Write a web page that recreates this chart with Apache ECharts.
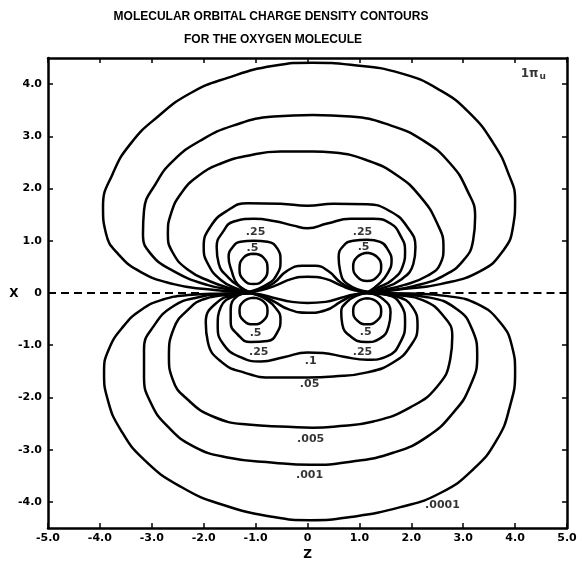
<!DOCTYPE html>
<html><head><meta charset="utf-8">
<script src="https://cdn.jsdelivr.net/npm/echarts/dist/echarts.min.js"></script>
<style>html,body{margin:0;padding:0;background:#fff}#c{width:582px;height:566px}</style>
</head><body><div id="c"></div>
<script>
// ---- tick values ----
const zTickValues = [-5,-4,-3,-2,-1,0,1,2,3,4,5];
const xTickValues = [-4,-3,-2,-1,0,1,2,3,4];

// ---- contour traces [z, x] ----
const level0001Upper = [[-1.13,0.02],[-1.4,0.03],[-1.92,0.07],[-2.58,0.17],[-3.21,0.40],[-3.65,0.75],[-3.88,1.13],[-3.94,1.65],[-3.75,2.29],[-3.40,2.87],[-2.88,3.38],[-2.25,3.83],[-1.54,4.12],[-0.65,4.35],[0.1,4.41],[0.83,4.37],[1.79,4.21],[2.56,3.88],[3.13,3.44],[3.58,2.87],[3.87,2.29],[4.0,1.77],[3.96,1.27],[3.77,0.81],[3.33,0.42],[2.56,0.17],[1.79,0.07],[1.4,0.03],[1.17,0.02]];
const level0001Lower = [[-1.13,0],[-1.6,-0.01],[-2.3,-0.04],[-2.8,-0.13],[-3.2,-0.32],[-3.54,-0.63],[-3.83,-1.08],[-3.92,-1.52],[-3.85,-2.04],[-3.60,-2.62],[-3.15,-3.19],[-2.44,-3.71],[-1.62,-4.06],[-0.65,-4.29],[0.05,-4.35],[0.83,-4.29],[1.79,-4.10],[2.56,-3.83],[3.19,-3.38],[3.65,-2.81],[3.90,-2.17],[4.0,-1.52],[3.94,-1.02],[3.71,-0.56],[3.27,-0.21],[2.7,-0.06],[2.0,-0.01],[1.17,0]];
const level001Upper = [[-1.13,0.02],[-1.42,0.06],[-1.92,0.15],[-2.58,0.42],[-3.02,0.75],[-3.17,1.13],[-3.15,1.58],[-2.92,2.10],[-2.58,2.54],[-2.06,2.92],[-1.42,3.21],[-0.65,3.38],[0.1,3.41],[0.83,3.38],[1.6,3.21],[2.23,2.92],[2.75,2.48],[3.08,1.96],[3.23,1.46],[3.19,1.0],[3.0,0.62],[2.62,0.33],[2.04,0.13],[1.54,0.05],[1.17,0.02]];
const level001Lower = [[-1.13,0],[-1.6,-0.02],[-2.1,-0.08],[-2.58,-0.25],[-2.96,-0.63],[-3.15,-1.08],[-3.15,-1.6],[-3.02,-2.1],[-2.69,-2.56],[-2.19,-2.94],[-1.54,-3.15],[-0.65,-3.25],[0.05,-3.29],[0.83,-3.23],[1.65,-3.06],[2.31,-2.75],[2.81,-2.29],[3.13,-1.79],[3.27,-1.21],[3.17,-0.69],[2.88,-0.31],[2.31,-0.08],[1.65,-0.02],[1.17,0]];
const level005Upper = [[-1.13,0.02],[-1.48,0.09],[-1.87,0.22],[-2.31,0.45],[-2.6,0.78],[-2.69,1.13],[-2.63,1.52],[-2.44,1.9],[-2.12,2.23],[-1.67,2.48],[-1.15,2.63],[-0.52,2.71],[0.1,2.71],[0.5,2.69],[1.15,2.54],[1.73,2.25],[2.17,1.85],[2.5,1.33],[2.62,0.88],[2.56,0.56],[2.31,0.33],[1.85,0.15],[1.46,0.06],[1.17,0.02]];
const level005Lower = [[-1.13,0],[-1.67,-0.05],[-2.0,-0.12],[-2.25,-0.27],[-2.58,-0.69],[-2.67,-1.21],[-2.6,-1.65],[-2.31,-2.04],[-1.81,-2.37],[-1.15,-2.52],[-0.38,-2.56],[0.1,-2.58],[0.5,-2.56],[1.27,-2.46],[1.98,-2.19],[2.5,-1.79],[2.75,-1.27],[2.79,-0.83],[2.62,-0.44],[2.23,-0.14],[1.73,-0.04],[1.17,0]];
const level05Upper = [[-1.13,0.02],[-1.35,0.08],[-1.67,0.25],[-1.92,0.56],[-2.0,0.88],[-1.87,1.27],[-1.54,1.58],[-1.15,1.72],[-0.52,1.71],[0,1.67],[0.5,1.71],[1.15,1.70],[1.6,1.56],[1.92,1.27],[2.08,0.88],[2.04,0.56],[1.79,0.25],[1.4,0.08],[1.17,0.02],[0.9,0.05],[0.65,0.14],[0.35,0.27],[0,0.31],[-0.3,0.27],[-0.62,0.14],[-0.9,0.05],[-1.13,0.02]];
const level05Lower = [[-1.13,0],[-1.35,-0.03],[-1.73,-0.17],[-1.96,-0.56],[-1.92,-0.94],[-1.67,-1.31],[-1.23,-1.52],[-0.65,-1.62],[0,-1.62],[0.5,-1.6],[1.15,-1.52],[1.65,-1.33],[1.98,-1.02],[2.12,-0.63],[2.02,-0.27],[1.73,-0.07],[1.4,-0.02],[1.17,0],[0.9,-0.03],[0.65,-0.09],[0.35,-0.17],[0,-0.19],[-0.3,-0.17],[-0.62,-0.1],[-0.9,-0.03],[-1.13,0]];
const level1Upper = [[-1.13,0.02],[-1.29,0.11],[-1.52,0.29],[-1.71,0.56],[-1.75,0.88],[-1.63,1.17],[-1.42,1.37],[-1.04,1.42],[-0.65,1.38],[-0.27,1.29],[0,1.24],[0.38,1.33],[0.83,1.42],[1.27,1.42],[1.6,1.33],[1.79,1.1],[1.88,0.81],[1.83,0.5],[1.63,0.25],[1.35,0.1],[1.17,0.02],[0.9,0.07],[0.65,0.19],[0.4,0.42],[0.15,0.52],[-0.1,0.52],[-0.4,0.42],[-0.65,0.19],[-0.9,0.07],[-1.13,0.02]];
const level1Lower = [[-1.13,0],[-1.35,-0.04],[-1.67,-0.27],[-1.73,-0.63],[-1.62,-0.98],[-1.29,-1.23],[-0.9,-1.31],[-0.46,-1.23],[0,-1.14],[0.3,-1.15],[0.7,-1.22],[1.15,-1.28],[1.54,-1.21],[1.79,-0.94],[1.88,-0.56],[1.79,-0.21],[1.54,-0.04],[1.17,0],[0.9,-0.04],[0.65,-0.16],[0.35,-0.33],[0,-0.38],[-0.37,-0.31],[-0.65,-0.16],[-0.9,-0.05],[-1.13,0]];
const level25UpperLeft = [[-1.13,0.02],[-1.35,0.17],[-1.46,0.42],[-1.52,0.69],[-1.44,0.88],[-1.29,0.98],[-1.04,1.0],[-0.77,0.98],[-0.58,0.85],[-0.52,0.62],[-0.58,0.37],[-0.77,0.17],[-1.13,0.02]];
const level25UpperRight = [[1.17,0.02],[1.37,0.17],[1.54,0.37],[1.62,0.62],[1.56,0.81],[1.4,0.98],[1.15,1.02],[0.88,1.0],[0.69,0.9],[0.6,0.69],[0.63,0.42],[0.77,0.17],[1.17,0.02]];
const level25LowerLeft = [[-1.13,0],[-1.35,-0.06],[-1.48,-0.31],[-1.48,-0.56],[-1.35,-0.79],[-1.1,-0.94],[-0.77,-0.92],[-0.58,-0.75],[-0.52,-0.5],[-0.62,-0.28],[-0.8,-0.12],[-1.0,-0.03],[-1.13,0]];
const level25LowerRight = [[1.17,0],[1.46,-0.12],[1.6,-0.37],[1.56,-0.65],[1.4,-0.87],[1.12,-0.94],[0.83,-0.83],[0.67,-0.6],[0.65,-0.36],[0.75,-0.18],[0.95,-0.05],[1.17,0]];
const level5UpperLeft = [[-1.04,0.75],[-0.85,0.68],[-0.77,0.46],[-0.85,0.25],[-1.04,0.17],[-1.23,0.25],[-1.31,0.46],[-1.23,0.68],[-1.04,0.75]];
const level5UpperRight = [[1.15,0.77],[1.34,0.69],[1.42,0.5],[1.34,0.31],[1.15,0.23],[0.96,0.31],[0.88,0.5],[0.96,0.69],[1.15,0.77]];
const level5LowerLeft = [[-1.04,-0.09],[-0.85,-0.16],[-0.77,-0.34],[-0.85,-0.53],[-1.04,-0.6],[-1.23,-0.53],[-1.31,-0.34],[-1.23,-0.16],[-1.04,-0.09]];
const level5LowerRight = [[1.15,-0.1],[1.34,-0.17],[1.42,-0.35],[1.34,-0.53],[1.15,-0.6],[0.96,-0.53],[0.88,-0.35],[0.96,-0.17],[1.15,-0.1]];
const axisDashLeft = [[-5,0],[-2.0,0]];
const axisDashRight = [[2.1,0],[5,0]];

// ---- contour labels ----
const contourLabels = ['.25','.5','.25','.5','.5','.25','.5','.25','.1','.05','.005','.001','.0001'];
const contourLabelPos = [[-1.0,1.17],[-1.06,0.86],[1.06,1.17],[1.08,0.87],[-1.0,-0.76],[-0.94,-1.13],[1.12,-0.74],[1.06,-1.13],[0.06,-1.31],[0.04,-1.75],[0.06,-2.79],[0.04,-3.48],[2.6,-4.07]];
const stateLabelPos = [4.35,4.2];

const contourTraces = [level0001Upper,level0001Lower,level001Upper,level001Lower,level005Upper,level005Lower,
  level05Upper,level05Lower,level1Upper,level1Lower,level25UpperLeft,level25UpperRight,level25LowerLeft,level25LowerRight,
  level5UpperLeft,level5UpperRight,level5LowerLeft,level5LowerRight];

const chart = echarts.init(document.getElementById('c'), null, {renderer:'canvas'});
const tickFont = {fontFamily:'DejaVu Sans', fontWeight:'bold', fontSize:11, color:'#000'};
const fmt = v => (Math.abs(v - Math.round(v)) > 1e-6) ? '' : (Math.round(v) === 0 ? '0' : v.toFixed(1));

const series = contourTraces.map(d => ({
  type:'line', data:d, smooth:0.5, symbol:'none', showSymbol:false, silent:true,
  lineStyle:{color:'#000', width:2.5}, z:2
}));
[axisDashLeft, axisDashRight].forEach(d => series.push({
  type:'line', data:d, symbol:'none', silent:true, lineStyle:{color:'#000', width:1.8, type:[8,5]}, z:1
}));
series.push({
  type:'scatter', symbolSize:0, silent:true, z:5,
  data: contourLabels.map((t,i)=>({name:t, value:contourLabelPos[i]})),
  label:{show:true, position:'inside', formatter:p=>p.name, fontFamily:'DejaVu Sans', fontWeight:'bold', fontSize:11, color:'#000'}
});
series.push({
  type:'scatter', symbolSize:0, silent:true, z:5,
  data:[{name:'1πu', value:stateLabelPos}],
  label:{show:true, position:'inside', formatter:'{a|1π}{b|u}',
    rich:{a:{fontFamily:'DejaVu Sans', fontWeight:'bold', fontSize:12, color:'#000'},
          b:{fontFamily:'DejaVu Sans', fontWeight:'bold', fontSize:9, color:'#000', padding:[6,0,0,1]}}}
});

chart.setOption({
  animation:false,
  backgroundColor:'#fff',
  graphic:[
    {type:'text', x:271, y:17, style:{text:'MOLECULAR ORBITAL CHARGE DENSITY CONTOURS', textAlign:'center', textVerticalAlign:'middle', fill:'#000', font:'bold 12px "Liberation Sans"'}},
    {type:'text', x:273, y:40, style:{text:'FOR THE OXYGEN MOLECULE', textAlign:'center', textVerticalAlign:'middle', fill:'#000', font:'bold 12px "Liberation Sans"'}},
    {type:'text', x:14, y:294, style:{text:'X', textAlign:'center', textVerticalAlign:'middle', fill:'#000', font:'bold 12px "DejaVu Sans"'}}
  ],
  grid:{left:48, right:15, top:58, bottom:38, containLabel:false},
  xAxis:[
    {type:'value', min:-5, max:5, interval:1, position:'bottom',
     name:'Z', nameLocation:'middle', nameGap:19, nameTextStyle:{fontFamily:'DejaVu Sans', fontWeight:'bold', fontSize:12, color:'#000'},
     axisLine:{show:true, onZero:false, lineStyle:{color:'#000', width:2.5}},
     axisTick:{show:true, inside:true, length:5, lineStyle:{color:'#000', width:1.5}},
     axisLabel:Object.assign({show:true, margin:5, formatter:fmt, customValues:zTickValues}, tickFont),
     splitLine:{show:false}},
    {type:'value', min:-5, max:5, interval:1, position:'top',
     axisLine:{show:true, onZero:false, lineStyle:{color:'#000', width:2.5}},
     axisTick:{show:true, inside:true, length:5, lineStyle:{color:'#000', width:1.5}},
     axisLabel:{show:false}, splitLine:{show:false}}
  ],
  yAxis:[
    {type:'value', min:-4.5, max:4.5, splitNumber:9, position:'left',
     axisLine:{show:true, onZero:false, lineStyle:{color:'#000', width:2.5}},
     axisTick:{show:true, inside:true, length:5, customValues:xTickValues, lineStyle:{color:'#000', width:1.5}},
     axisLabel:Object.assign({show:true, margin:6, formatter:fmt, customValues:xTickValues}, tickFont),
     splitLine:{show:false}},
    {type:'value', min:-4.5, max:4.5, splitNumber:9, position:'right',
     axisLine:{show:true, onZero:false, lineStyle:{color:'#000', width:2.5}},
     axisTick:{show:true, inside:true, length:5, customValues:xTickValues, lineStyle:{color:'#000', width:1.5}},
     axisLabel:{show:false}, splitLine:{show:false}}
  ],
  series: series
});
</script>
</body></html>
